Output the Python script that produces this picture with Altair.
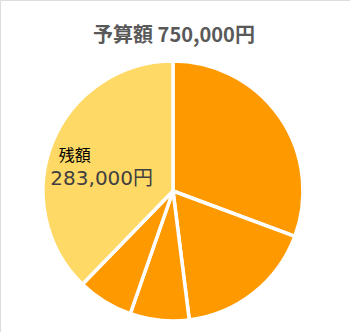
import altair as alt
import pandas as pd

categories = ["項目A", "項目B", "項目C", "項目D", "残額"]
values = [230000, 130000, 55000, 52000, 283000]
order_idx = [1, 2, 3, 4, 5]
name_labels = ["", "", "", "", "残額"]
value_labels = ["", "", "", "", "283,000円"]
title_text = "予算額 750,000円"

colors = ["#FF9900", "#FF9900", "#FF9900", "#FF9900", "#FFD966"]

df = pd.DataFrame({
    "cat": categories,
    "value": values,
    "ord": order_idx,
    "name": name_labels,
    "val": value_labels,
})

CX, CY = 173, 191
FONT = "Noto Sans CJK JP"

base = alt.Chart(df).encode(
    theta=alt.Theta("value:Q", stack=True),
    order=alt.Order("ord:Q"),
    x=alt.value(CX),
    y=alt.value(CY),
)

pie = base.mark_arc(outerRadius=130, stroke="white", strokeWidth=3.5).encode(
    color=alt.Color("cat:N", scale=alt.Scale(domain=categories, range=colors), legend=None)
)

lbl_name = base.mark_text(font=FONT, fontSize=16, color="#000000", dx=-26, dy=-6).encode(
    radius=alt.value(78), text="name:N"
)
lbl_val = base.mark_text(font="DejaVu Sans, Noto Sans CJK JP", fontSize=20, color="#404040", dx=1, dy=17).encode(
    radius=alt.value(78), text="val:N"
)

title = alt.Chart(pd.DataFrame({"t": [title_text]})).mark_text(
    font=FONT, fontSize=20, fontWeight="bold", color="#595959"
).encode(text="t:N", x=alt.value(174), y=alt.value(36))

chart = alt.layer(pie, lbl_name, lbl_val, title).properties(
    width=350, height=332, padding=0, autosize=alt.AutoSizeParams(type="none")
).configure_view(stroke="#d9d9d9", strokeWidth=1).configure(background="white")

chart.save("out.html", embed_options={"renderer": "svg", "actions": False})
